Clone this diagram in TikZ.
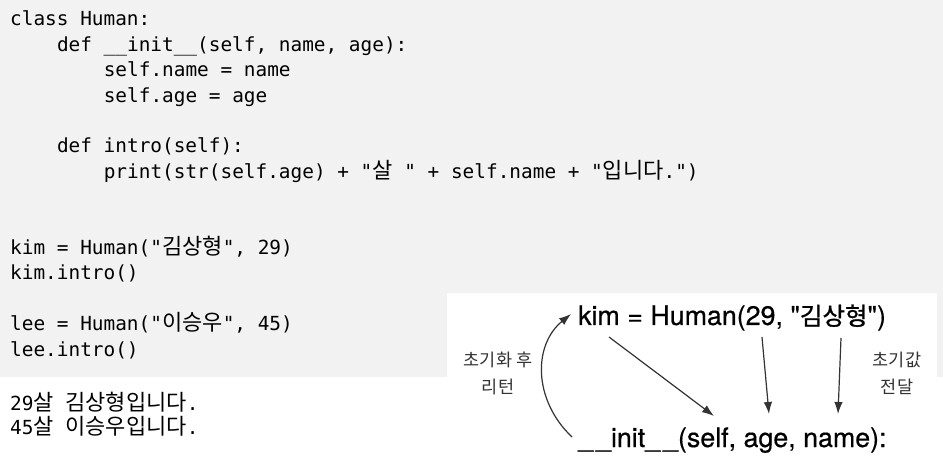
\documentclass[tikz,border=0pt]{standalone}
\usepackage{fontspec}
\newfontfamily\callfont{TeX Gyre Heros}[FakeBold=0.5]
\newfontfamily\mono{DejaVu Sans Mono}
\newfontfamily\kr{Noto Sans CJK KR}
\newfontfamily\krb{Noto Sans CJK KR}[FakeBold=1.2]
\usetikzlibrary{arrows.meta}
\tikzset{>={Latex[length=12pt, width=8.5pt]}}
\definecolor{codebg}{HTML}{F2F2F2}
\definecolor{pen}{HTML}{333333}
\newcommand{\hg}[1]{{\kr\fontsize{22}{24}\selectfont #1}}
\newcommand{\hgd}[1]{{\krb\fontsize{24.5}{26}\selectfont #1}}
\newcommand{\usc}{\_\kern3pt\_}
\tikzset{
	code/.style={anchor=base west, inner sep=0pt, font=\mono\fontsize{19.4}{23}\selectfont},
	call/.style={anchor=base west, inner sep=0pt, font=\callfont\fontsize{26.8}{30}\selectfont},
	note/.style={align=center, inner sep=0pt, text=pen, font=\kr\fontsize{17.5}{27}\selectfont},
	flow/.style={->, draw=pen, line width=1.2pt}
}

\begin{document}
\frenchspacing
\begin{tikzpicture}[x=1pt, y=-1pt]
	\useasboundingbox (0, 0) rectangle (943, 462);
	\fill[codebg](0, 0) rectangle (943, 377);
	\fill[white](447, 293) rectangle (937, 462);
	% code
	\node[code] (c1) at (10, 26) {class Human:};
	\node[code] (c2) at (56.8, 51.4) {def \_\_init\_\_(self, name, age):};
	\node[code] (c3) at (103.6, 76.8) {self.name = name};
	\node[code] (c4) at (103.6, 102.2) {self.age = age};
	\node[code] (c5) at (56.8, 153) {def intro(self):};
	\node[code] (c6) at (103.6, 178.4) {print(str(self.age) + "\hg{살} " + self.name + "\hg{입니다}.")};
	\node[code] (c7) at (10, 254.6) {kim = Human("\hg{김상형}", 29)};
	\node[code] (c8) at (10, 280) {kim.intro()};
	\node[code] (c9) at (10, 330.8) {lee = Human("\hg{이승우}", 45)};
	\node[code] (c10) at (10, 356.2) {lee.intro()};
	% output
	\node[code] (o1) at (10, 410) {29\hg{살} \hg{김상형입니다}.};
	\node[code] (o2) at (10, 435) {45\hg{살} \hg{이승우입니다}.};
	% diagram
	\node[call] (kim) at (578, 325) {kim = Human(29, "\hgd{김상형}")};
	\node[call] (init) at (578, 447) {\usc init\usc(self, age, name):};
	\node[note] (ret) at (498, 373) {초기화 후\\리턴};
	\node[note] (pass) at (897, 373) {초기값\\전달};
	\coordinate (retA) at (572, 437);
	\coordinate (retB) at (571, 314);
	\coordinate (newA) at (609, 337);
	\coordinate (newB) at (714, 416);
	\coordinate (ageA) at (762, 337);
	\coordinate (ageB) at (769, 414);
	\coordinate (nameA) at (841, 338);
	\coordinate (nameB) at (838, 414);
	\draw[flow](retA) .. controls (533, 400) and (533, 345) .. (retB);
	\draw[flow](newA)--(newB);
	\draw[flow](ageA)--(ageB);
	\draw[flow](nameA)--(nameB);
\end{tikzpicture}
\end{document}
